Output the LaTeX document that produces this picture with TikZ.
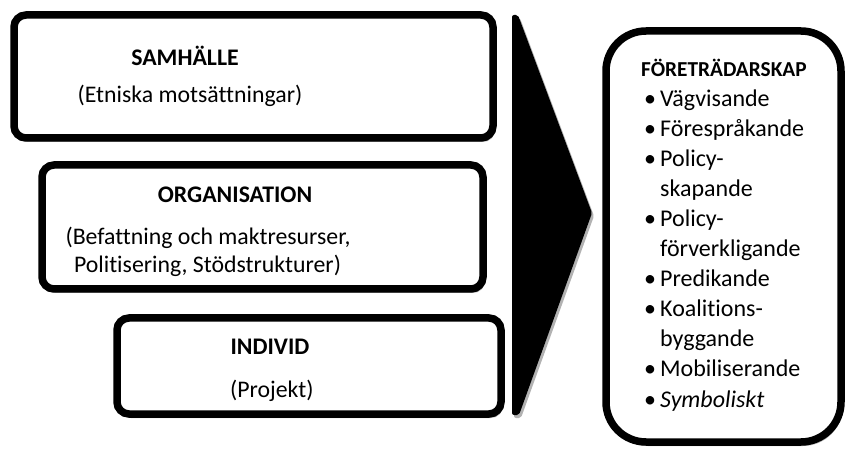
\documentclass[tikz,border=0pt]{standalone}
\usepackage{fontspec}
\setmainfont{Carlito}[Ligatures=NoCommon]
\usetikzlibrary{shadows}
\begin{document}
\begin{tikzpicture}[x=1pt,y=-1pt,
  frame/.style={draw=black, line width=7.5pt, fill=white, rounded corners=12pt, inner sep=0pt,
    drop shadow={shadow xshift=2pt, shadow yshift=-4pt, opacity=0.3, fill=black}},
  hd/.style={font=\fontsize{23.8}{28}\selectfont\bfseries, anchor=base, inner sep=0pt},
  tx/.style={font=\fontsize{23.8}{28}\selectfont, anchor=base, inner sep=0pt},
  item/.style={font=\fontsize{24}{28}\selectfont, anchor=base west, inner sep=0pt},
]
\useasboundingbox (0,0) rectangle (847,449);
% left boxes
\node[frame, minimum width=479pt, minimum height=123pt] (b1) at (253.5,76.5) {};
\node[frame, minimum width=441pt, minimum height=124pt] (b2) at (262.5,227) {};
\node[frame, minimum width=384pt, minimum height=96pt] (b3) at (309,366) {};
% big arrow
\path[fill=black, rounded corners=2pt, drop shadow={shadow xshift=2pt, shadow yshift=-3pt, opacity=0.3, fill=black}]
  (512,15) -- (518,15) -- (592,213) -- (519,415) -- (512,415) -- cycle;
% right box
\node[frame, rounded corners=40pt, minimum width=235pt, minimum height=411pt] (b4) at (723.5,236.5) {};
% texts
\node[hd] (t1) at (185,66) {SAMHÄLLE};
\node[tx] (s1) at (190,103) {(Etniska motsättningar)};
\node[hd] (t2) at (235,203) {ORGANISATION};
\node[tx] (s2a) at (208,245) {(Befattning och maktresurser,};
\node[tx] (s2b) at (207.5,273) {Politisering, Stödstrukturer)};
\node[hd] (t3) at (270,355) {INDIVID};
\node[tx, anchor=base west] (s3) at (230,397) {(Projekt)};
\node[font=\fontsize{21.3}{24}\selectfont\bfseries, anchor=base west, inner sep=0pt] (h) at (641,77) {FÖRETRÄDARSKAP};
\node[item] (i1) at (644,107) {\makebox[16pt][l]{•}Vägvisande};
\node[item] (i2) at (644,137) {\makebox[16pt][l]{•}Förespråkande};
\node[item] (i3) at (644,167) {\makebox[16pt][l]{•}Policy-};
\node[item] (i3b) at (644,197) {\hspace{16pt}skapande};
\node[item] (i4) at (644,227) {\makebox[16pt][l]{•}Policy-};
\node[item] (i4b) at (644,257) {\hspace{16pt}förverkligande};
\node[item] (i5) at (644,287) {\makebox[16pt][l]{•}Predikande};
\node[item] (i6) at (644,317) {\makebox[16pt][l]{•}Koalitions-};
\node[item] (i6b) at (644,347) {\hspace{16pt}byggande};
\node[item] (i7) at (644,377) {\makebox[16pt][l]{•}Mobiliserande};
\node[item] (i8) at (644,407) {\makebox[16pt][l]{•}\textit{Symboliskt}};
\end{tikzpicture}
\end{document}
